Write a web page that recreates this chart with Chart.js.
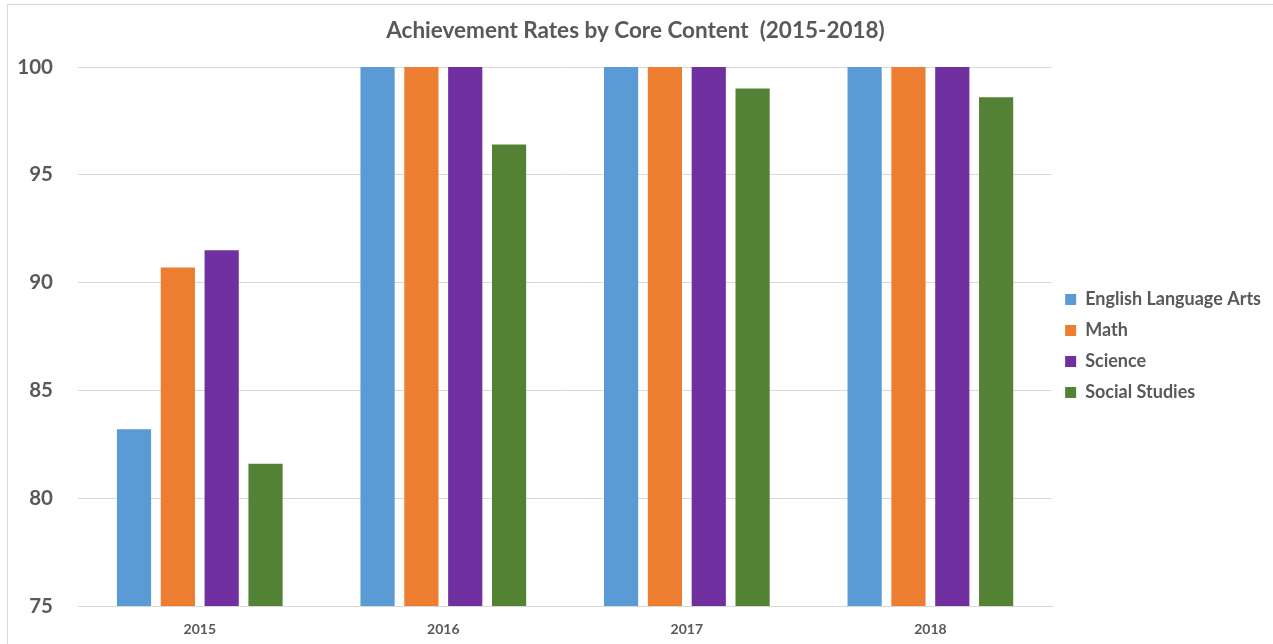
<!DOCTYPE html>
<html>
<head>
<meta charset="utf-8">
<script src="https://cdn.jsdelivr.net/npm/chart.js@4.4.0/dist/chart.umd.min.js"></script>
<style>
  html, body { margin: 0; padding: 0; background: #fff; overflow: hidden; }
  #wrap { position: relative; width: 1273px; height: 644px; }
  #frame { position: absolute; left: 7px; top: 4px; width: 1300px; height: 700px; border: 1px solid #d9d9d9; pointer-events: none; }
</style>
</head>
<body>
<div id="wrap">
  <canvas id="chart" width="1273" height="644"></canvas>
  <div id="frame"></div>
</div>
<script>
const years = ['2015', '2016', '2017', '2018'];
const subjects = ['English Language Arts', 'Math', 'Science', 'Social Studies'];
const colors = ['#5b9bd5', '#ed7d31', '#7030a0', '#548235'];

const elaRates = [83.2, 100, 100, 100];
const mathRates = [90.7, 100, 100, 100];
const scienceRates = [91.5, 100, 100, 100];
const socialRates = [81.6, 96.4, 99.0, 98.6];

const yTicks = [75, 80, 85, 90, 95, 100];

const series = [elaRates, mathRates, scienceRates, socialRates];

const font = "Lato, 'Liberation Sans', sans-serif";
const textColor = '#595959';

new Chart(document.getElementById('chart'), {
  type: 'bar',
  data: {
    labels: years,
    datasets: series.map((vals, i) => ({
      label: subjects[i],
      data: vals,
      backgroundColor: colors[i],
      barPercentage: 0.78,
      categoryPercentage: 0.72
    }))
  },
  options: {
    responsive: false,
    animation: false,
    layout: { padding: { left: 0, right: 2, top: 0, bottom: 0 } },
    plugins: {
      title: {
        display: true,
        text: 'Achievement Rates by Core Content  (2015-2018)',
        color: textColor,
        font: { family: font, size: 22.5, weight: 'bold' },
        padding: { top: 17, bottom: 23 }
      },
      legend: {
        position: 'right',
        title: { display: true, text: ' ', font: { size: 10 }, padding: { top: 36, bottom: 0 } },
        labels: {
          color: textColor,
          font: { family: font, size: 18, weight: 'bold' },
          boxWidth: 11,
          boxHeight: 11,
          padding: 13
        }
      },
      tooltip: { enabled: false }
    },
    scales: {
      x: {
        grid: { display: false, drawTicks: false },
        border: { color: '#d9d9d9' },
        ticks: { color: textColor, font: { family: font, size: 14, weight: 'bold' }, padding: 15 },
        afterFit: axis => { axis.height = 38; }
      },
      y: {
        min: yTicks[0],
        max: yTicks[yTicks.length - 1],
        afterBuildTicks: axis => { axis.ticks = yTicks.map(v => ({ value: v })); },
        grid: { color: '#d9d9d9', drawTicks: false },
        border: { display: false },
        ticks: { color: textColor, font: { family: font, size: 20.5, weight: 'bold' }, padding: 25 },
        afterFit: axis => { axis.width = 78; }
      }
    }
  }
});
</script>
</body>
</html>
